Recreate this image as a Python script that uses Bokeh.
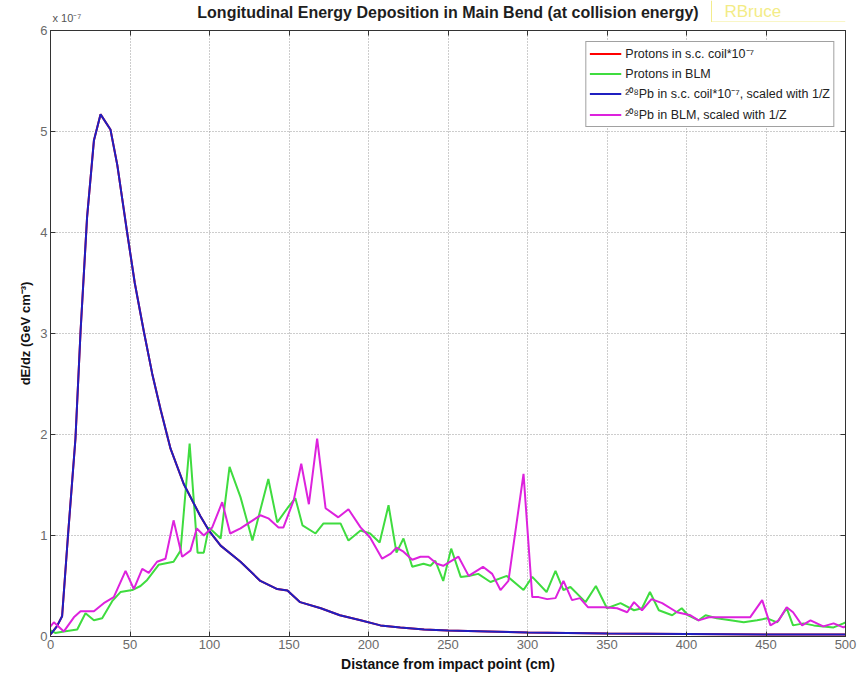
from bokeh.plotting import figure
from bokeh.models import (LinearAxis, Legend, LegendItem, Range1d, FixedTicker,
                          CustomLabelingPolicy)
from bokeh.layouts import column
from bokeh.core.properties import value
from bokeh.embed import file_html
from bokeh.resources import INLINE

# ---------------- data ----------------
x_ticks = [0, 50, 100, 150, 200, 250, 300, 350, 400, 450, 500]
y_ticks = [0, 1, 2, 3, 4, 5, 6]

# 208Pb in s.c. coil *1e-7, scaled with 1/Z
pb_coil_x = [0, 4, 7.3, 11, 15.7, 18.9, 23, 27.3, 31.5, 37.7, 42, 48.2, 53, 58.7,
             64, 69.2, 75.5, 83.8, 94.3, 100, 107, 119.5, 132, 142.6, 149, 157,
             170, 182, 195, 207.5, 220, 235, 250, 275, 300, 350, 400, 450, 500]
pb_coil_y = [0.02, 0.1, 0.2, 1.0, 1.96, 3.02, 4.15, 4.91, 5.17, 5.02, 4.67, 4.0,
             3.5, 3.02, 2.6, 2.25, 1.86, 1.51, 1.19, 1.04, 0.9, 0.74, 0.55, 0.47,
             0.455, 0.34, 0.28, 0.21, 0.16, 0.11, 0.09, 0.07, 0.06, 0.05, 0.04,
             0.03, 0.025, 0.02, 0.02]

# Protons in s.c. coil *1e-7 (hidden under the blue curve)
p_coil_x = [0, 4, 7.3, 11, 15.7, 18.9, 23, 27.3, 31.5, 37.7, 42, 48.2, 53, 58.7,
            64, 69.2, 75.5, 83.8, 94.3, 100, 107, 119.5, 132, 142.6, 149, 157,
            170, 182, 195, 207.5, 220, 235, 250, 275, 300, 350, 400, 450, 500]
p_coil_y = [0.02, 0.1, 0.2, 1.0, 1.96, 3.02, 4.15, 4.91, 5.17, 5.02, 4.67, 4.0,
            3.5, 3.02, 2.6, 2.25, 1.86, 1.51, 1.19, 1.04, 0.9, 0.74, 0.55, 0.47,
            0.455, 0.34, 0.28, 0.21, 0.16, 0.11, 0.09, 0.07, 0.06, 0.05, 0.04,
            0.03, 0.025, 0.02, 0.02]

# Protons in BLM
p_blm_x = [0, 3, 8.4, 16.8, 22, 27.3, 32.5, 38.8, 44, 51.4, 56.6, 60.8, 68, 77.4,
           81.8, 87.5, 92.5, 96.4, 99.6, 107, 112.6, 119.5, 127, 137, 142.6, 149,
           154, 158.5, 166.7, 171.7, 182.4, 187.4, 195, 201, 207, 212.6, 217.6,
           222, 227.5, 234.6, 239, 242, 247, 252, 258, 263, 269, 276.7, 287,
           297.5, 303, 312, 317.6, 322.6, 327, 336.5, 343, 350, 358.5, 367, 372,
           377, 382.6, 391, 397, 401, 407.6, 412, 419, 427.7, 436, 444.4, 450.7,
           457, 463, 467, 473.6, 480, 486, 492.5, 498.7, 500]
p_blm_y = [0.06, 0.035, 0.05, 0.07, 0.23, 0.16, 0.18, 0.35, 0.44, 0.46, 0.5, 0.56,
           0.71, 0.74, 0.85, 1.91, 0.83, 0.83, 1.08, 0.97, 1.68, 1.38, 0.95, 1.56,
           1.13, 1.27, 1.37, 1.10, 1.02, 1.12, 1.12, 0.95, 1.05, 1.02, 0.93, 1.30,
           0.83, 0.97, 0.69, 0.72, 0.70, 0.75, 0.55, 0.87, 0.59, 0.60, 0.62, 0.54,
           0.60, 0.46, 0.59, 0.44, 0.65, 0.46, 0.49, 0.34, 0.50, 0.28, 0.33, 0.26,
           0.28, 0.44, 0.26, 0.21, 0.28, 0.21, 0.16, 0.21, 0.18, 0.16, 0.14, 0.16,
           0.18, 0.14, 0.28, 0.11, 0.13, 0.11, 0.10, 0.09, 0.13, 0.14]

# 208Pb in BLM, scaled with 1/Z
pb_blm_x = [0, 2.1, 8.4, 14.7, 18.9, 27.3, 33.5, 39.8, 47.2, 52.4, 57.7, 61.8, 67,
            72.3, 77.4, 82.8, 88, 92, 96.4, 101.7, 108, 113, 119.5, 132, 137,
            143.4, 146.5, 153, 157.7, 162.5, 167.7, 173, 181, 187.4, 195, 201,
            208.6, 214, 217.6, 222, 227.5, 232.7, 237.7, 243, 247, 256.6, 263,
            272, 277.8, 283, 288, 297.5, 303, 307, 312.4, 317.6, 322.6, 328, 333,
            338, 348, 356.4, 362.7, 367, 372, 378, 384.7, 394, 402.5, 407.6, 414,
            421, 429.6, 440, 447.6, 452.8, 458, 463, 467, 472.7, 478, 486, 492.5,
            498.7, 500]
pb_blm_y = [0.1, 0.14, 0.05, 0.19, 0.25, 0.25, 0.33, 0.39, 0.65, 0.47, 0.67, 0.63,
            0.74, 0.77, 1.15, 0.79, 0.85, 1.07, 1.0, 1.08, 1.33, 1.02, 1.07, 1.2,
            1.17, 1.08, 1.08, 1.35, 1.71, 1.31, 1.96, 1.27, 1.18, 1.26, 1.08, 0.98,
            0.77, 0.82, 0.88, 0.84, 0.76, 0.79, 0.79, 0.72, 0.70, 0.79, 0.60, 0.69,
            0.62, 0.46, 0.55, 1.61, 0.39, 0.39, 0.37, 0.38, 0.55, 0.36, 0.38, 0.29,
            0.29, 0.28, 0.24, 0.34, 0.26, 0.37, 0.33, 0.24, 0.21, 0.16, 0.19, 0.19,
            0.19, 0.19, 0.36, 0.11, 0.16, 0.29, 0.24, 0.11, 0.16, 0.10, 0.13, 0.09,
            0.1]

labels = ["Protons in s.c. coil*10\u207b\u2077",
          "Protons in BLM",
          "\u00b2\u2070\u2078Pb in s.c. coil*10\u207b\u2077, scaled with 1/Z",
          "\u00b2\u2070\u2078Pb in BLM, scaled with 1/Z"]

title_text = "Longitudinal Energy Deposition in Main Bend (at collision energy)"
exp_text = "x 10\u207b\u2077"
mark_text = "RBruce"

FONT = "Liberation Sans"
W, H = 866, 675
HEAD = 22
FL, FR = 50, 845          # frame edges (page pixels); header frame aligns to them

# ---------------- header strip (title, exponent, watermark) ----------------
head = figure(width=W, height=HEAD, x_range=Range1d(FL, FR), y_range=Range1d(0, HEAD),
              output_backend="svg", toolbar_location=None,
              min_border_left=FL, min_border_right=W - FR,
              min_border_top=0, min_border_bottom=0)
head.axis.visible = False
head.grid.visible = False
head.outline_line_color = None
head.background_fill_color = "white"
head.border_fill_color = "white"

head.text(x=[447.5], y=[10], text=[title_text], text_font=value(FONT),
          text_font_size="16px", text_font_style="bold", text_color="#1e1e1e",
          text_align="center", text_baseline="middle")
head.text(x=[52], y=[5], text=[exp_text], text_font=value(FONT),
          text_font_size="11px", text_color="#555555",
          text_align="left", text_baseline="alphabetic")
head.segment(x0=[711], y0=[0], x1=[711], y1=[HEAD], line_color="#f3ec8c",
             line_width=1)
head.segment(x0=[711], y0=[0.5], x1=[FR], y1=[0.5], line_color="#f3ec8c",
             line_width=1)
head.text(x=[724], y=[11], text=[mark_text], text_font=value(FONT),
          text_font_size="17px", text_color="#f3ec86",
          text_align="left", text_baseline="middle")

# ---------------- main plot ----------------
p = figure(width=W, height=H - HEAD, x_range=Range1d(0, 500), y_range=Range1d(0, 6),
           output_backend="svg", toolbar_location=None,
           min_border_left=FL, min_border_right=W - FR, min_border_top=8,
           min_border_bottom=39,
           x_axis_label="Distance from impact point (cm)",
           y_axis_label="dE/dz (GeV cm\u207b\u00b3)")

p.outline_line_color = "#333333"
p.outline_line_width = 1
p.background_fill_color = "white"
p.border_fill_color = "white"

for ax in (p.xaxis[0], p.yaxis[0]):
    ax.major_tick_in = 5
    ax.major_tick_out = 0
    ax.minor_tick_in = 0
    ax.minor_tick_out = 0
    ax.axis_line_color = "#333333"
    ax.major_tick_line_color = "#333333"
    ax.major_label_text_color = "#6a6a6a"
    ax.major_label_text_font = FONT
    ax.major_label_text_font_size = "13px"
    ax.major_label_standoff = 3
    ax.axis_label_text_font = FONT
    ax.axis_label_text_font_style = "bold"
    ax.axis_label_text_color = "#111111"
    ax.axis_label_standoff = 4

p.xaxis[0].axis_label_text_font_size = "14px"
p.yaxis[0].axis_label_text_font_size = "13px"
p.xaxis[0].ticker = FixedTicker(ticks=x_ticks)
p.yaxis[0].ticker = FixedTicker(ticks=y_ticks)

hide_all = CustomLabelingPolicy(code="""
for (const i of indices) indices.unset(i)
return indices
""")
top = LinearAxis(ticker=FixedTicker(ticks=x_ticks))
right = LinearAxis(ticker=FixedTicker(ticks=y_ticks))
for ax in (top, right):
    ax.major_tick_in = 5
    ax.major_tick_out = 0
    ax.minor_tick_in = 0
    ax.minor_tick_out = 0
    ax.axis_line_color = "#333333"
    ax.major_tick_line_color = "#333333"
    ax.major_label_policy = hide_all
    ax.major_label_text_font_size = "1px"
    ax.major_label_standoff = 0
p.add_layout(top, "above")
p.add_layout(right, "right")

p.xgrid.ticker = FixedTicker(ticks=x_ticks)
p.ygrid.ticker = FixedTicker(ticks=y_ticks)
for g in (p.xgrid[0], p.ygrid[0]):
    g.grid_line_color = "#9a9a9a"
    g.grid_line_dash = "1 2"
    g.grid_line_width = 1

r_red = p.line(p_coil_x, p_coil_y, line_color="#ff0000", line_width=2)
r_green = p.line(p_blm_x, p_blm_y, line_color="#3fdc3f", line_width=2)
r_blue = p.line(pb_coil_x, pb_coil_y, line_color="#1f1fc0", line_width=2)
r_mag = p.line(pb_blm_x, pb_blm_y, line_color="#dd22dd", line_width=2)

legend = Legend(items=[LegendItem(label=labels[0], renderers=[r_red]),
                       LegendItem(label=labels[1], renderers=[r_green]),
                       LegendItem(label=labels[2], renderers=[r_blue]),
                       LegendItem(label=labels[3], renderers=[r_mag])],
                location="top_right", margin=11, padding=3, spacing=4,
                glyph_width=32, glyph_height=15, label_height=15,
                label_standoff=4, label_text_font=FONT,
                label_text_font_size="12.5px", label_text_color="#222222",
                border_line_color="#444444", border_line_width=1,
                background_fill_color="white", background_fill_alpha=1)
p.add_layout(legend)

layout = column(head, p, spacing=0)
open("out.html", "w").write(file_html(layout, INLINE))
